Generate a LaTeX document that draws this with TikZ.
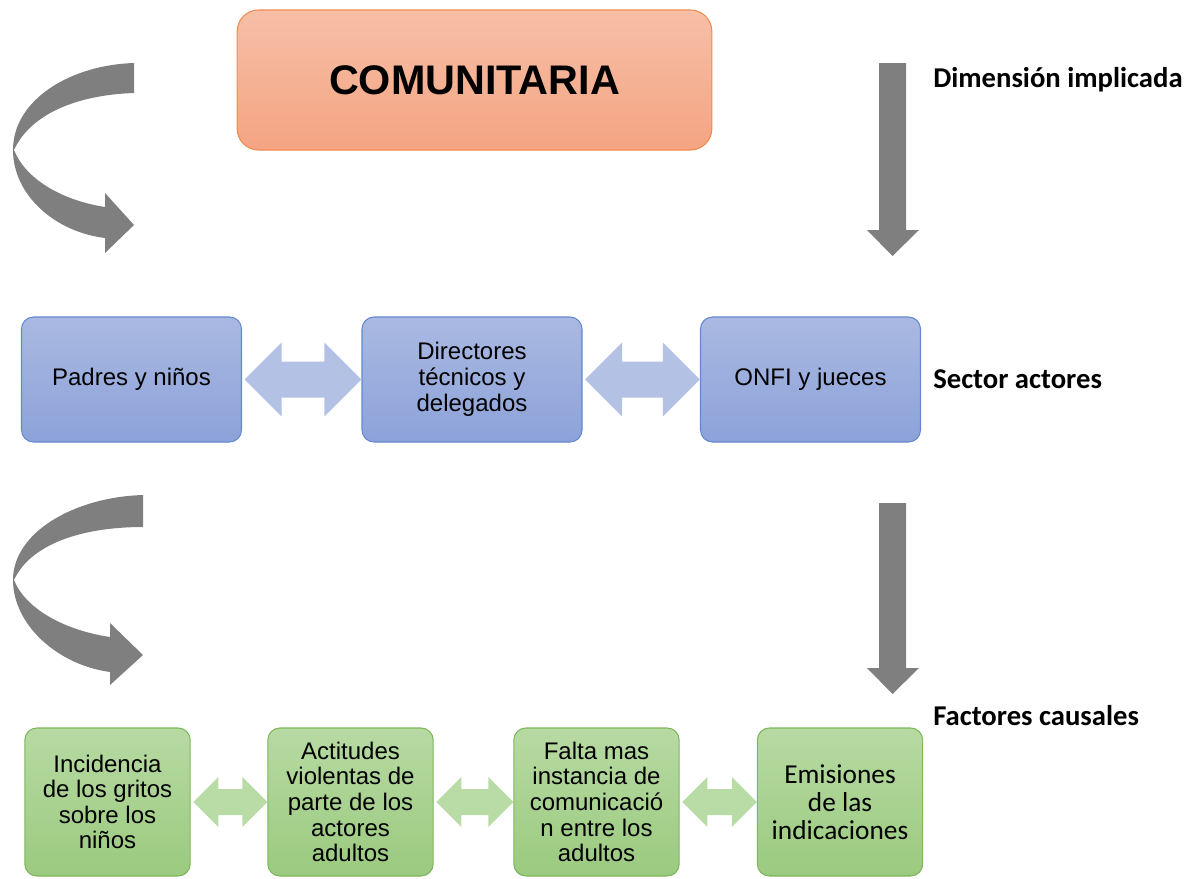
\documentclass[tikz,border=0pt]{standalone}
\usepackage{fontspec}
\setmainfont{Liberation Sans}
\newfontfamily\calibri{Carlito}
\usetikzlibrary{calc}

\definecolor{orangetop}{HTML}{F7BFA7}
\definecolor{orangebot}{HTML}{F4A482}
\definecolor{orangeline}{HTML}{F08C50}
\definecolor{bluetop}{HTML}{AAB9E2}
\definecolor{bluebot}{HTML}{8CA2D9}
\definecolor{blueline}{HTML}{6388D0}
\definecolor{bluelink}{HTML}{B3C1E4}
\definecolor{greentop}{HTML}{B7DAA3}
\definecolor{greenbot}{HTML}{9BCA7F}
\definecolor{greenline}{HTML}{7DB75A}
\definecolor{greenlink}{HTML}{B9DCA7}
\definecolor{flowgrey}{HTML}{7F7F7F}

% thick two-headed link between two boxes of a row
\newcommand{\linkarrow}[5]{%
  \fill[#3] let \p1=(#1.east), \p2=(#2.west), \n1={#4}, \n2={#5} in
    (\x1+2pt,\y1) -- (\x1+2pt+\n1,\y1+\n1) -- (\x1+2pt+\n1,\y1+\n2)
    -- (\x2-\n1,\y1+\n2) -- (\x2-\n1,\y1+\n1) -- (\x2,\y1)
    -- (\x2-\n1,\y1-\n1) -- (\x2-\n1,\y1-\n2) -- (\x1+2pt+\n1,\y1-\n2)
    -- (\x1+2pt+\n1,\y1-\n1) -- cycle;}

\begin{document}
\begin{tikzpicture}[x=0.75pt,y=-0.75pt,
  dimbox/.style={draw=orangeline,line width=0.8pt,rounded corners=16pt,top color=orangetop,bottom color=orangebot,minimum width=356pt,minimum height=105pt,inner sep=0pt,font=\fontsize{31}{36}\selectfont\bfseries},
  actorbox/.style={draw=blueline,line width=0.8pt,rounded corners=9pt,top color=bluetop,bottom color=bluebot,minimum width=165pt,minimum height=93.75pt,inner sep=0pt,align=center,font=\fontsize{18}{19.5}\selectfont},
  causebox/.style={draw=greenline,line width=0.8pt,rounded corners=9pt,top color=greentop,bottom color=greenbot,minimum width=124pt,minimum height=111pt,inner sep=0pt,align=center,font=\fontsize{18}{19.2}\selectfont},
  sidelabel/.style={anchor=base west,inner sep=0pt,font=\calibri\fontsize{21.5}{24}\selectfont\bfseries}]
\useasboundingbox (0,0) rectangle (1195,878);
		\coordinate (P) at (474.5,80);
		\coordinate (A1) at (131.5,379.5);
		\coordinate (A2) at (472,379.5);
		\coordinate (A3) at (810.5,379.5);
		\coordinate (C1) at (107.5,802);
		\coordinate (C2) at (350.5,802);
		\coordinate (C3) at (596.5,802);
		\coordinate (C4) at (840,802);
		\node[dimbox] (dim) at (P) {COMUNITARIA};
		\node[actorbox] (padres) at (A1) {Padres y niños};
		\node[actorbox] (directores) at (A2) {Directores\\técnicos y\\delegados};
		\node[actorbox] (onfi) at (A3) {ONFI y jueces};
		\node[causebox] (gritos) at (C1) {Incidencia\\de los gritos\\sobre los\\niños};
		\node[causebox] (actitudes) at (C2) {Actitudes\\violentas de\\parte de los\\actores\\adultos};
		\node[causebox] (falta) at (C3) {Falta mas\\instancia de\\comunicació\\n entre los\\adultos};
		\node[causebox,font=\calibri\fontsize{20.5}{21}\selectfont] (emisiones) at (C4) {Emisiones\\de las\\indicaciones};
		\linkarrow{padres}{directores}{bluelink}{27.75pt}{13.5pt}
		\linkarrow{directores}{onfi}{bluelink}{27.75pt}{13.5pt}
		\linkarrow{gritos}{actitudes}{greenlink}{18.75pt}{9.75pt}
		\linkarrow{actitudes}{falta}{greenlink}{18.75pt}{9.75pt}
		\linkarrow{falta}{emisiones}{greenlink}{18.75pt}{9.75pt}
		\node[sidelabel] (dimlabel) at (933,87) {Dimensión implicada};
		\node[sidelabel] (sectorlabel) at (933,388) {Sector actores};
		\node[sidelabel] (factorlabel) at (933,725) {Factores causales};
		% down arrows on the right
		\fill[flowgrey] (879,63) -- (906,63) -- (906,230) -- (919,230) -- (892.5,256) -- (867,230) -- (879,230) -- cycle;
		\fill[flowgrey] (879,503) -- (906,503) -- (906,668) -- (919,668) -- (892.5,694) -- (867,668) -- (879,668) -- cycle;
		% curved arrows on the left
		\fill[flowgrey] (134,63) .. controls (70,65) and (13,100) .. (13,150) .. controls (13,195) and (55,232) .. (105,238) -- (105,253) -- (134,225) -- (105,193) -- (105,207) .. controls (60,200) and (25,178) .. (14,150) .. controls (30,115) and (75,95) .. (134,93) -- cycle;
		\fill[flowgrey] (143,495) .. controls (75,497) and (13,532) .. (13,580) .. controls (13,625) and (58,665) .. (110,672) -- (110,685) -- (143,655) -- (110,623) -- (110,637) .. controls (63,630) and (25,608) .. (14,580) .. controls (30,545) and (80,527) .. (143,527) -- cycle;
\end{tikzpicture}
\end{document}
